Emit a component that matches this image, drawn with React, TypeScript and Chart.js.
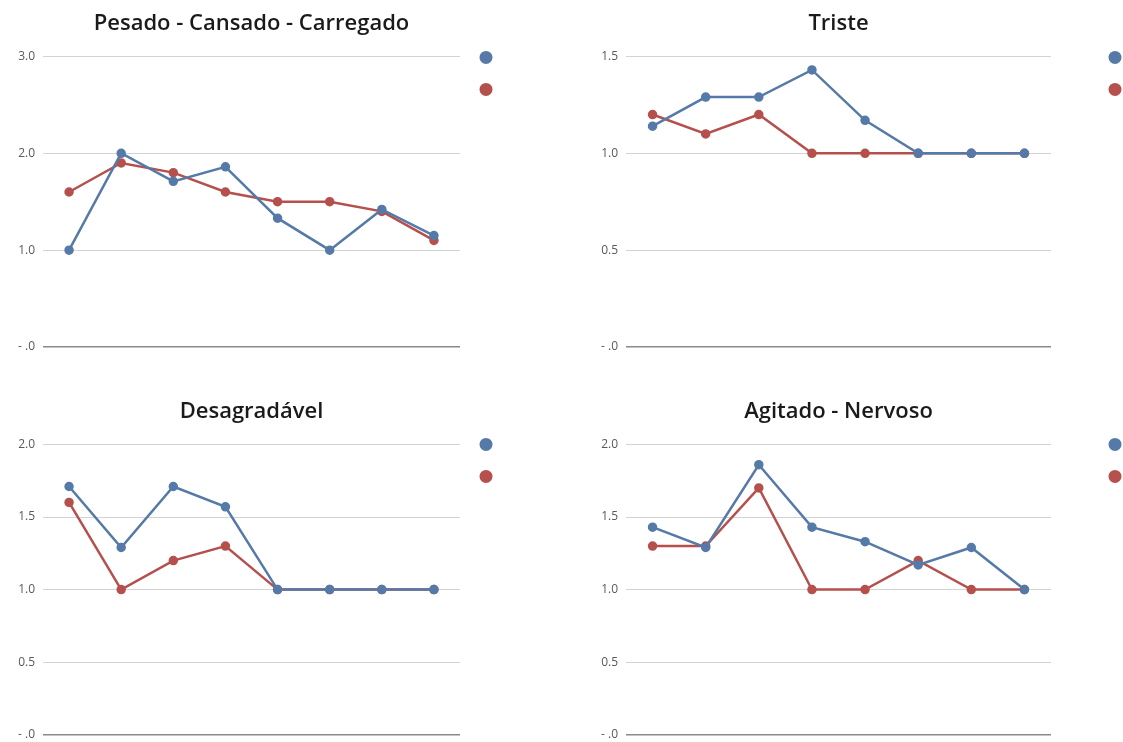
import React, { useEffect, useRef } from "react";
import { Chart, registerables } from "chart.js";

Chart.register(...registerables);

const categories = ["1", "2", "3", "4", "5", "6", "7", "8"];

const pesadoBlue = [1.0, 2.0, 1.71, 1.86, 1.33, 1.0, 1.42, 1.15];
const pesadoRed = [1.6, 1.9, 1.8, 1.6, 1.5, 1.5, 1.4, 1.1];

const tristeBlue = [1.14, 1.29, 1.29, 1.43, 1.17, 1.0, 1.0, 1.0];
const tristeRed = [1.2, 1.1, 1.2, 1.0, 1.0, 1.0, 1.0, 1.0];

const desagradavelBlue = [1.71, 1.29, 1.71, 1.57, 1.0, 1.0, 1.0, 1.0];
const desagradavelRed = [1.6, 1.0, 1.2, 1.3, 1.0, 1.0, 1.0, 1.0];

const agitadoBlue = [1.43, 1.29, 1.86, 1.43, 1.33, 1.17, 1.29, 1.0];
const agitadoRed = [1.3, 1.3, 1.7, 1.0, 1.0, 1.2, 1.0, 1.0];

const BLUE = "#557aa8";
const RED = "#b5504d";

type PanelProps = {
  title: string;
  blue: number[];
  red: number[];
  yMax: number;
  yStep: number;
  width: number;
  height: number;
  padLeft: number;
  padRight: number;
  padBottom: number;
  titleTop: number;
  titleBottom: number;
  legendOffset: number;
  legendTop: number;
};

function Panel(p: PanelProps) {
  const ref = useRef<HTMLCanvasElement | null>(null);
  useEffect(() => {
    if (!ref.current) return;
    const legendDots = {
      id: "legendDots",
      afterDraw(chart: any) {
        const ctx = chart.ctx;
        const ca = chart.chartArea;
        const cols = [BLUE, RED];
        ctx.save();
        cols.forEach((c, i) => {
          ctx.beginPath();
          ctx.fillStyle = c;
          ctx.arc(ca.right + p.legendOffset, ca.top + p.legendTop + i * 32, 6.5, 0, Math.PI * 2);
          ctx.fill();
        });
        ctx.restore();
      },
    };
    const chart = new Chart(ref.current, {
      type: "line",
      data: {
        labels: categories,
        datasets: [
          {
            label: "Série 1",
            data: p.blue,
            borderColor: BLUE,
            backgroundColor: BLUE,
            pointBackgroundColor: BLUE,
            pointBorderColor: BLUE,
            pointRadius: 3.5,
            borderWidth: 2.5,
            tension: 0,
          },
          {
            label: "Série 2",
            data: p.red,
            borderColor: RED,
            backgroundColor: RED,
            pointBackgroundColor: RED,
            pointBorderColor: RED,
            pointRadius: 3.5,
            borderWidth: 2.5,
            tension: 0,
          },
        ],
      },
      options: {
        responsive: false,
        animation: false,
        layout: {
          padding: { left: p.padLeft, right: p.padRight, bottom: p.padBottom, top: 0 },
        },
        plugins: {
          legend: { display: false },
          tooltip: { enabled: false },
          title: {
            display: true,
            text: p.title,
            fullSize: false,
            color: "#1a1a1a",
            font: { family: "'Open Sans', sans-serif", size: 22, weight: "600" },
            padding: { top: p.titleTop, bottom: p.titleBottom },
          },
        },
        scales: {
          x: {
            type: "category",
            offset: true,
            grid: { display: false, drawTicks: false },
            border: { display: false },
            ticks: { display: false },
          },
          y: {
            min: 0,
            max: p.yMax,
            afterFit(scale: any) {
              scale.width = 43;
            },
            border: { display: false },
            grid: {
              drawTicks: false,
              color: (c: any) => (c.tick && c.tick.value === 0 ? "#8a8a8a" : "#d3d3d3"),
              lineWidth: (c: any) => (c.tick && c.tick.value === 0 ? 1.5 : 1),
            },
            ticks: {
              stepSize: p.yStep,
              padding: 8,
              color: "#595959",
              font: { family: "'Open Sans', sans-serif", size: 12 },
              callback: (v: any) => (Number(v) === 0 ? "- .0" : Number(v).toFixed(1)),
            },
          },
        },
      },
      plugins: [legendDots],
    } as any);
    return () => chart.destroy();
  }, []);
  return <canvas ref={ref} width={p.width} height={p.height} style={{ display: "block", width: p.width, height: p.height }} />;
}

export default function App() {
  return (
    <div style={{ position: "absolute", left: 0, top: 0, width: 1123, height: 742, background: "#fff", overflow: "hidden" }}>
      <div style={{ position: "absolute", left: 0, top: 0 }}>
        <Panel title="Pesado - Cansado - Carregado" blue={pesadoBlue} red={pesadoRed} yMax={3} yStep={1}
          width={561} height={371} padLeft={0} padRight={101} padBottom={24} titleTop={11} titleBottom={19}
          legendOffset={26} legendTop={1} />
      </div>
      <div style={{ position: "absolute", left: 561, top: 0 }}>
        <Panel title="Triste" blue={tristeBlue} red={tristeRed} yMax={1.5} yStep={0.5}
          width={562} height={371} padLeft={22} padRight={72} padBottom={24} titleTop={11} titleBottom={19}
          legendOffset={64} legendTop={1} />
      </div>
      <div style={{ position: "absolute", left: 0, top: 371 }}>
        <Panel title="Desagradável" blue={desagradavelBlue} red={desagradavelRed} yMax={2} yStep={0.5}
          width={561} height={379} padLeft={0} padRight={101} padBottom={0} titleTop={28} titleBottom={19}
          legendOffset={26} legendTop={0} />
      </div>
      <div style={{ position: "absolute", left: 561, top: 371 }}>
        <Panel title="Agitado - Nervoso" blue={agitadoBlue} red={agitadoRed} yMax={2} yStep={0.5}
          width={562} height={379} padLeft={22} padRight={72} padBottom={0} titleTop={28} titleBottom={19}
          legendOffset={64} legendTop={0} />
      </div>
    </div>
  );
}
